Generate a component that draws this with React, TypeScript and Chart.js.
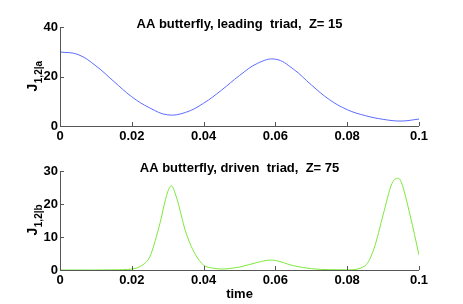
import React, { useEffect, useRef } from "react";
import { Chart, registerables } from "chart.js";

Chart.register(...registerables);

// Top panel: leading triad
const timeA = [0, 0.005, 0.01, 0.015, 0.02, 0.025, 0.03, 0.035, 0.04, 0.045, 0.05, 0.055, 0.06, 0.065, 0.07, 0.075, 0.08, 0.085, 0.09, 0.095, 0.1];
const valuesA = [29.9, 28.9, 24.3, 18.0, 11.8, 7.3, 4.5, 5.5, 9.2, 14.5, 20.4, 25.3, 27.0, 23.0, 16.6, 10.7, 6.6, 4.2, 2.7, 2.0, 2.8];

// Bottom panel: driven triad
const timeB = [0, 0.01, 0.015, 0.02, 0.0225, 0.025, 0.0275, 0.03, 0.031, 0.0325, 0.035, 0.0375, 0.04, 0.0425, 0.045, 0.05, 0.055, 0.0585, 0.06, 0.065, 0.07, 0.075, 0.08, 0.085, 0.0875, 0.09, 0.0925, 0.0942, 0.095, 0.0975, 0.1];
const valuesB = [0, 0, 0.05, 0.3, 1.2, 4.0, 12.7, 23.7, 25.5, 21.8, 11.6, 5.1, 1.5, 0.6, 0.3, 0.9, 2.3, 3.0, 2.9, 1.3, 0.4, 0.1, 0.05, 1.3, 6.6, 16.7, 26.3, 27.8, 26.8, 16.7, 4.5];

const xTickLabels = ["0", "0.02", "0.04", "0.06", "0.08", "0.1"];
const yTicksA = ["0", "20", "40"];
const yTicksB = ["0", "10", "20", "30"];

const titleA = "AA butterfly, leading  triad,  Z= 15";
const titleB = "AA butterfly, driven  triad,  Z= 75";
const xTitle = "time";

const FONT = "'Liberation Sans', Arial, Helvetica, sans-serif";

function makeConfig(
  xs: number[],
  ys: number[],
  color: string,
  yMax: number,
  yLabels: string[],
  title: string,
  sub: string,
  top: number,
  xAxisH: number,
  showXTitle: boolean,
  mode: string
): any {
  const deco = {
    id: "deco",
    afterDraw(chart: any) {
      const ctx = chart.ctx;
      const a = chart.chartArea;
      const xs2 = chart.scales.x;
      const ys2 = chart.scales.y;
      ctx.save();
      ctx.strokeStyle = "#555";
      ctx.lineWidth = 1;
      ctx.beginPath();
      ctx.moveTo(Math.round(a.left) + 0.5, a.top);
      ctx.lineTo(Math.round(a.left) + 0.5, Math.round(a.bottom) + 0.5);
      ctx.lineTo(a.right, Math.round(a.bottom) + 0.5);
      ctx.stroke();
      ctx.beginPath();
      xs2.ticks.forEach((t: any) => {
        const px = Math.round(xs2.getPixelForValue(t.value)) + 0.5;
        ctx.moveTo(px, a.bottom);
        ctx.lineTo(px, a.bottom - 4);
      });
      ys2.ticks.forEach((t: any) => {
        const py = Math.round(ys2.getPixelForValue(t.value)) + 0.5;
        ctx.moveTo(a.left, py);
        ctx.lineTo(a.left + 4, py);
      });
      ctx.stroke();
      ctx.fillStyle = "#000";
      ctx.font = "bold 13px " + FONT;
      ctx.textAlign = "center";
      ctx.textBaseline = "alphabetic";
      ctx.fillText(title, (a.left + a.right) / 2, a.top + 1);
      if (showXTitle) {
        ctx.font = "bold 13px " + FONT;
        ctx.fillText(xTitle, (a.left + a.right) / 2, a.bottom + 28);
      }
      const cy = (a.top + a.bottom) / 2;
      ctx.translate(37, cy + 15);
      ctx.rotate(-Math.PI / 2);
      ctx.textAlign = "left";
      ctx.font = "bold 14px " + FONT;
      ctx.fillText("J", 0, 0);
      const w = ctx.measureText("J").width;
      ctx.font = "bold 10px " + FONT;
      ctx.fillText(sub, w + 0.5, 4.5);
      ctx.restore();
    },
  };

  return {
    type: "line",
    data: {
      datasets: [
        {
          data: xs.map((x, i) => ({ x, y: ys[i] })),
          borderColor: color,
          borderWidth: 1,
          pointRadius: 0,
          fill: false,
          cubicInterpolationMode: mode,
          tension: 0.4,
        },
      ],
    },
    options: {
      animation: false,
      responsive: false,
      maintainAspectRatio: false,
      layout: { padding: { left: 0, right: 44, top: top, bottom: 0 } },
      plugins: { legend: { display: false }, tooltip: { enabled: false }, title: { display: false } },
      scales: {
        x: {
          type: "linear",
          min: 0,
          max: 0.1,
          border: { display: false },
          grid: { display: false, drawTicks: false },
          afterFit: (s: any) => {
            s.height = xAxisH;
          },
          afterBuildTicks: (s: any) => {
            s.ticks = xTickLabels.map((l) => ({ value: parseFloat(l) }));
          },
          ticks: {
            padding: 3,
            color: "#000",
            font: { family: FONT, size: 13, weight: "bold" },
            maxRotation: 0,
            autoSkip: false,
            callback: (v: any) => xTickLabels.find((l) => Math.abs(parseFloat(l) - v) < 1e-9) ?? "",
          },
        },
        y: {
          type: "linear",
          min: 0,
          max: yMax,
          border: { display: false },
          grid: { display: false, drawTicks: false },
          afterFit: (s: any) => {
            s.width = 60;
          },
          afterBuildTicks: (s: any) => {
            s.ticks = yLabels.map((l) => ({ value: parseFloat(l) }));
          },
          ticks: {
            padding: 2,
            color: "#000",
            font: { family: FONT, size: 13, weight: "bold" },
            callback: (v: any) => yLabels.find((l) => parseFloat(l) === v) ?? "",
          },
        },
      },
    },
    plugins: [deco],
  };
}

export default function App() {
  const refA = useRef<HTMLCanvasElement>(null);
  const refB = useRef<HTMLCanvasElement>(null);

  useEffect(() => {
    const cA = new Chart(
      refA.current!,
      makeConfig(timeA, valuesA, "#5b6cff", 40, yTicksA, titleA, "1,2|a", 27, 26, false, "default")
    );
    const cB = new Chart(
      refB.current!,
      makeConfig(timeB, valuesB, "#7ee83c", 30, yTicksB, titleB, "1,2|b", 19, 34, true, "monotone")
    );
    return () => {
      cA.destroy();
      cB.destroy();
    };
  }, []);

  return (
    <div style={{ position: "fixed", left: 0, top: 0, width: 463, height: 304, background: "#fff" }}>
      <canvas ref={refA} width={463} height={152} style={{ display: "block", width: 463, height: 152 }} />
      <canvas ref={refB} width={463} height={152} style={{ display: "block", width: 463, height: 152 }} />
    </div>
  );
}
